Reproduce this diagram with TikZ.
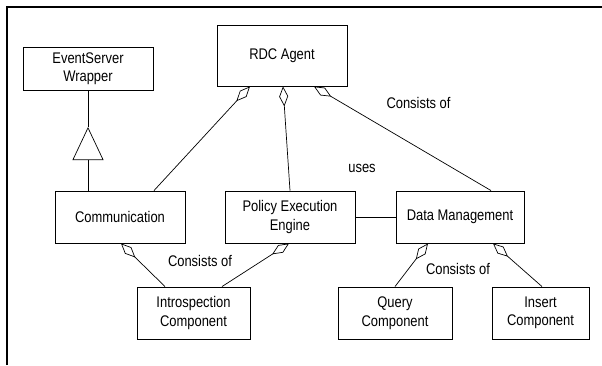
\documentclass[tikz,border=0pt]{standalone}
\usepackage{fontspec}
\setmainfont{Liberation Sans}[FakeStretch=0.84]
\usetikzlibrary{arrows.meta}
\tikzset{
    class box/.style={draw, line width=0.9pt, inner sep=0pt, align=center,
        minimum height=52pt, font=\fontsize{15.4}{18.5}\selectfont},
    has part/.style={{Diamond[open,length=20pt,width=9pt]}-},
    assoc text/.style={font=\fontsize{15.4}{18.5}\selectfont},
}

\begin{document}
\begin{tikzpicture}[x=1pt, y=-1pt, line width=0.7pt]
\useasboundingbox (0,0) rectangle (602,365);
\draw[line width=2pt] (7,365) -- (7,7) -- (602,7);

% classes
\node[class box, minimum width=130pt, minimum height=43pt] (wrapper) at (88,68.5) {EventServer\\Wrapper};
\node[class box, minimum width=130pt, minimum height=61pt] (agent) at (282,55.5) {RDC Agent};
\node[class box, minimum width=130pt] (comm) at (120,217) {Communication};
\node[class box, minimum width=130pt] (engine) at (290,217) {Policy Execution\\Engine};
\node[class box, minimum width=128pt] (data) at (460,217) {Data Management};
\node[class box, minimum width=113pt] (intro) at (193.5,313) {Introspection\\Component};
\node[class box, minimum width=114pt] (query) at (395,313) {Query\\Component};
\node[class box, minimum width=97pt] (insert) at (540.5,313) {Insert\\Component};

% inheritance
\coordinate (gen) at (88,127);
\draw[-{Triangle[open,length=33pt,width=31pt]}] (comm.north -| wrapper) -- (gen);
\draw (gen) -- (wrapper);

% aggregations
\draw[has part] ([xshift=-32pt]agent.south) -- ([xshift=34pt]comm.north);
\draw[has part] ([xshift=1pt]agent.south) -- (engine.north);
\draw[has part] ([xshift=32pt]agent.south) -- ([xshift=31pt]data.north);
\draw[has part] ([xshift=1pt]comm.south) -- ([xshift=-28.5pt]intro.north);
\draw[has part] ([xshift=-1pt]engine.south) -- ([xshift=28.5pt]intro.north);
\draw[has part] ([xshift=-32pt]data.south) -- (query.north);
\draw[has part] ([xshift=33pt]data.south) -- ([xshift=1.5pt]insert.north);

% association
\draw (engine) -- (data);

\node[assoc text] (uses) at (362,168) {uses};
\node[assoc text] (agentparts) at (418.5,103) {Consists of};
\node[assoc text] (introparts) at (200,261) {Consists of};
\node[assoc text] (dataparts) at (458,269) {Consists of};
\end{tikzpicture}
\end{document}
